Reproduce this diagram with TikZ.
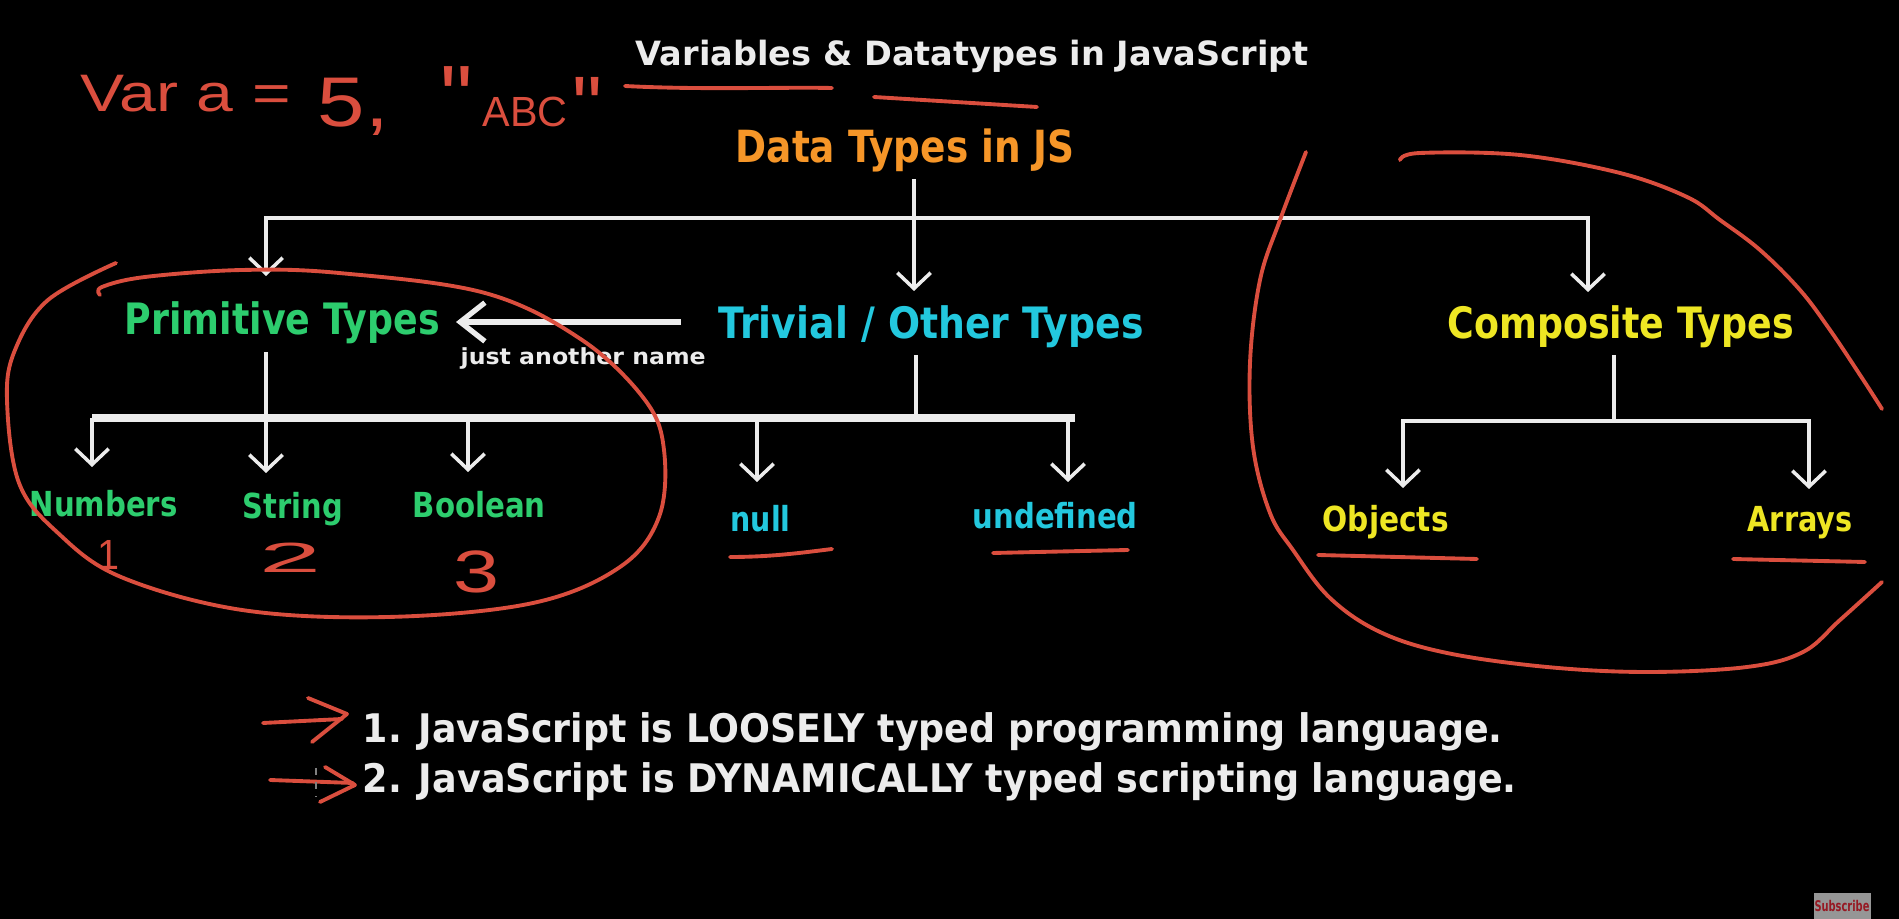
\documentclass[tikz,border=0pt]{standalone}
\usepackage{fontspec}
\setmainfont{DejaVu Sans}
\newfontfamily\hand{Liberation Sans}
\usepackage{graphicx}
\usetikzlibrary{arrows.meta}
\newlength{\pxu}\setlength{\pxu}{0.01cm}
\newcommand{\fitw}[2]{\resizebox{#1\pxu}{\height}{#2}}
\definecolor{cOrange}{RGB}{246,150,40}
\definecolor{cGreen}{RGB}{45,205,110}
\definecolor{cCyan}{RGB}{35,200,222}
\definecolor{cYellow}{RGB}{238,230,35}
\definecolor{cRed}{RGB}{218,78,62}
\definecolor{cWhite}{RGB}{236,236,236}
\definecolor{subgray}{RGB}{150,150,150}
\definecolor{subred}{RGB}{150,25,35}
\tikzset{
  lab/.style={inner sep=0pt, anchor=base west},
  wline/.style={draw=cWhite, line width=1pt},
  warr/.style={wline, -{Straight Barb[length=4.5pt,width=9.5pt]}},
  busline/.style={draw=cWhite, line width=2.4pt},
  redink/.style={draw=cRed, line width=1.1pt, line cap=round, line join=round},
  hw/.style={inner sep=0pt, anchor=base west, text=cRed},
}
\begin{document}
\begin{tikzpicture}[x=0.01cm,y=-0.01cm]
\fill[black] (0,0) rectangle (1899,919);
\useasboundingbox (0,0) rectangle (1899,919);

% ---------- texts ----------
\node[lab, text=cWhite, font=\fontsize{9.5}{11}\selectfont\bfseries] (title) at (635,66) {\fitw{673}{Variables \& Datatypes in JavaScript}};
\node[lab, text=cOrange, font=\fontsize{12.6}{14}\selectfont\bfseries] (dt) at (735,163) {\fitw{339}{Data Types in JS}};
\node[lab, text=cGreen, font=\fontsize{12.3}{14}\selectfont\bfseries] (prim) at (124,335) {\fitw{315}{Primitive Types}};
\node[lab, text=cCyan, font=\fontsize{12.3}{14}\selectfont\bfseries] (triv) at (718,339) {\fitw{425}{Trivial / Other Types}};
\node[lab, text=cYellow, font=\fontsize{12.3}{14}\selectfont\bfseries] (comp) at (1447,339) {\fitw{346}{Composite Types}};
\node[lab, text=cWhite, font=\fontsize{6.3}{8}\selectfont\bfseries] (jan) at (460,365) {\fitw{245}{just another name}};
\node[lab, text=cGreen, font=\fontsize{9.8}{11}\selectfont\bfseries] (num) at (29,517) {\fitw{148}{Numbers}};
\node[lab, text=cGreen, font=\fontsize{9.8}{11}\selectfont\bfseries] (str) at (242,519) {\fitw{100}{String}};
\node[lab, text=cGreen, font=\fontsize{9.8}{11}\selectfont\bfseries] (bool) at (412,518) {\fitw{133}{Boolean}};
\node[lab, text=cCyan, font=\fontsize{9.8}{11}\selectfont\bfseries] (nul) at (730,532) {\fitw{60}{null}};
\node[lab, text=cCyan, font=\fontsize{9.8}{11}\selectfont\bfseries] (undef) at (972,529) {\fitw{165}{undefined}};
\node[lab, text=cYellow, font=\fontsize{9.8}{11}\selectfont\bfseries] (obj) at (1322,532) {\fitw{126}{Objects}};
\node[lab, text=cYellow, font=\fontsize{9.8}{11}\selectfont\bfseries] (arr) at (1747,532) {\fitw{105}{Arrays}};
\node[lab, text=cWhite, font=\fontsize{11.2}{13}\selectfont\bfseries] (l1) at (362,743) {\fitw{1140}{1. JavaScript is LOOSELY typed programming language.}};
\node[lab, text=cWhite, font=\fontsize{11.2}{13}\selectfont\bfseries] (l2) at (362,793) {\fitw{1154}{2. JavaScript is DYNAMICALLY typed scripting language.}};

% ---------- tree connectors ----------
\coordinate (dtS) at (914,179);
\coordinate (dtBar) at (914,218);
\coordinate (dtT) at (914,291);
\coordinate (primT) at (266,276);
\coordinate (compT) at (1588,292);
\draw[warr] (dtS) -- (dtT);
\draw[warr] (dtBar) -| (primT);
\draw[warr] (dtBar) -| (compT);

% trivial -> primitive
\coordinate (tpS) at (681,322);
\coordinate (tpE) at (456,322);
\draw[draw=cWhite, line width=1.5pt, -{Straight Barb[length=7pt,width=11pt]}] (tpS) -- (tpE);

% bus
\coordinate (busL) at (92,418);
\coordinate (busR) at (1075,418);
\draw[busline] (busL) -- (busR);
\coordinate (primS) at (266,352);
\coordinate (trivS) at (916,355);
\coordinate (trivB) at (916,418);
\draw[wline] (trivS) -- (trivB);
\draw[warr] (primS) -- (266,473) coordinate (strT);
\draw[warr] (busL) -- (92,467) coordinate (numT);
\draw[warr] (468,418) coordinate (boolB) -- (468,472) coordinate (boolT);
\draw[warr] (757,418) coordinate (nulB) -- (757,482) coordinate (nulT);
\draw[warr] (1068,418) coordinate (undB) -- (1068,482) coordinate (undT);

% composite
\coordinate (compS) at (1614,355);
\coordinate (compJ) at (1614,421);
\coordinate (objT) at (1403,488);
\coordinate (arrT) at (1809,489);
\draw[wline] (compS) -- (compJ);
\draw[warr] (compJ) -| (objT);
\draw[warr] (compJ) -| (arrT);

% ---------- red handwriting ----------
\node[hw, font=\fontsize{15}{17}\selectfont\hand] (hv) at (80,112) {\fitw{210}{Var a =}};
\node[hw, font=\fontsize{20}{22}\selectfont\hand] (h5) at (317,127) {\fitw{71}{5,}};
\node[hw, font=\fontsize{26}{28}\selectfont\hand] (hq1) at (440,130) {\symbol{34}};
\node[hw, font=\fontsize{12}{14}\selectfont\hand] (habc) at (482,127) {\fitw{85}{ABC}};
\node[hw, font=\fontsize{24}{26}\selectfont\hand] (hq2) at (572,136) {\symbol{34}};
\node[hw, font=\fontsize{12}{14}\selectfont\hand] (h1) at (97,570) {\fitw{22}{1}};
\node[hw, font=\fontsize{12}{14}\selectfont\hand] (h2) at (259,573) {\fitw{62}{2}};
\node[hw, font=\fontsize{17}{19}\selectfont\hand] (h3) at (453,593) {\fitw{46}{3}};

% underlines
\draw[redink] (625,86) .. controls (700,90) and (780,87) .. (832,88);
\draw[redink] (874,97) -- (1037,107);
\draw[redink] (730,557) .. controls (770,557) and (800,553) .. (832,549);
\draw[redink] (993,553) -- (1128,550);
\draw[redink] (1318,555) -- (1477,559);
\draw[redink] (1733,559) -- (1865,562);

% loops
\draw[redink] plot[smooth, tension=0.6] coordinates {(116,263) (48,300) (15,350) (7,400) (19,483) (58,533) (121,577) (242,610) (388,617) (533,603) (620,567) (659,517) (664,450) (645,400) (582,340) (485,293) (339,273) (242,270) (145,277) (102,287) (100,295)};
\draw[redink] plot[smooth, tension=0.6] coordinates {(1306,152) (1280,220) (1260,280) (1250,363) (1253,447) (1270,513) (1293,550) (1330,598) (1380,632) (1447,653) (1547,667) (1647,672) (1747,667) (1803,652) (1840,620) (1882,582)};
\draw[redink] plot[smooth, tension=0.6] coordinates {(1400,160) (1420,153) (1520,155) (1620,173) (1687,197) (1720,220) (1760,250) (1800,290) (1830,330) (1862,378) (1882,409)};

% bottom arrows
\coordinate (a1s) at (263,723);
\coordinate (a1e) at (342,719);
\draw[redink] (a1s) -- (a1e);
\draw[redink] (308,698) -- (347,714) -- (312,742);
\coordinate (a2s) at (270,780);
\coordinate (a2e) at (353,783);
\draw[redink] (a2s) -- (a2e);
\draw[redink] (325,767) -- (355,785) -- (320,802);
\draw[draw=gray, line width=0.6pt, dash pattern=on 2pt off 2pt] (316,768) -- (316,797);

% subscribe badge
\fill[subgray] (1814,893) rectangle (1871,919);
\node[inner sep=0pt, text=subred, font=\fontsize{4.2}{5}\selectfont\bfseries] (sub) at (1842,906) {\fitw{55}{Subscribe}};
\end{tikzpicture}
\end{document}
